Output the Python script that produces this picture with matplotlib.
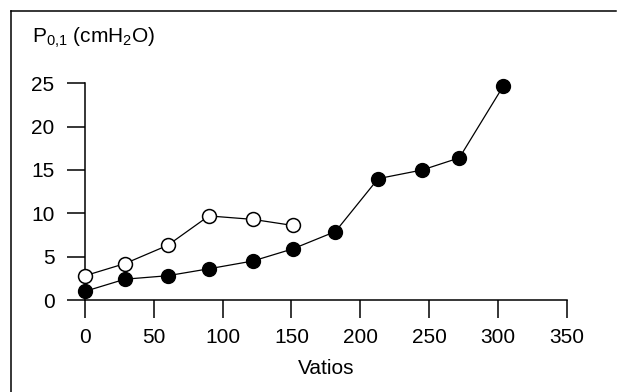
import matplotlib
matplotlib.use("Agg")
import matplotlib.pyplot as plt
from matplotlib.lines import Line2D

plt.rcParams['font.family'] = ['Liberation Sans', 'DejaVu Sans']
plt.rcParams['mathtext.default'] = 'regular'

# data
vatios_open = [0, 29, 60, 90, 122, 151]
p01_open = [2.8, 4.2, 6.3, 9.7, 9.3, 8.6]

vatios_filled = [0, 29, 60, 90, 122, 151, 182, 213, 245, 272, 304]
p01_filled = [1.0, 2.4, 2.8, 3.6, 4.5, 5.9, 7.9, 14.0, 15.0, 16.4, 24.7]

xticks = [0, 50, 100, 150, 200, 250, 300, 350]
yticks = [0, 5, 10, 15, 20, 25]

W, H = 618, 392
fig = plt.figure(figsize=(W / 100, H / 100), dpi=100)
ax = fig.add_axes([85 / W, 1 - 300 / H, 481.7 / W, 216.7 / H])

ax.plot(vatios_filled, p01_filled, color='black', lw=0.9, marker='o',
        ms=10, mfc='black', mec='black', clip_on=False, zorder=3)
ax.plot(vatios_open, p01_open, color='black', lw=0.9, marker='o',
        ms=10, mfc='white', mec='black', mew=1.1, clip_on=False, zorder=4)

ax.set_xlim(0, 350)
ax.set_ylim(0, 25)
ax.set_xticks(xticks)
ax.set_yticks(yticks)

for side in ['top', 'right']:
    ax.spines[side].set_visible(False)
for side in ['left', 'bottom']:
    ax.spines[side].set_linewidth(1.1)

fs = 15
ax.tick_params(direction='out', length=13, width=1.1, labelsize=fs, color='black')
ax.tick_params(axis='x', pad=7)
ax.tick_params(axis='y', pad=9)

ax.set_xlabel('Vatios', fontsize=fs, labelpad=9)
fig.text(32 / W, 1 - 43 / H, r'P$_{0{,}1}$ (cmH$_2$O)', fontsize=fs,
         ha='left', va='baseline')

# frame around the figure (only top and left edges show in the scan)
fig.add_artist(Line2D([11 / W, 11 / W], [0, 1 - 11 / H], color='black', lw=1.1))
fig.add_artist(Line2D([11 / W, 616 / W], [1 - 11 / H, 1 - 11 / H], color='black', lw=1.1))

fig.savefig('out.png', dpi=100)
